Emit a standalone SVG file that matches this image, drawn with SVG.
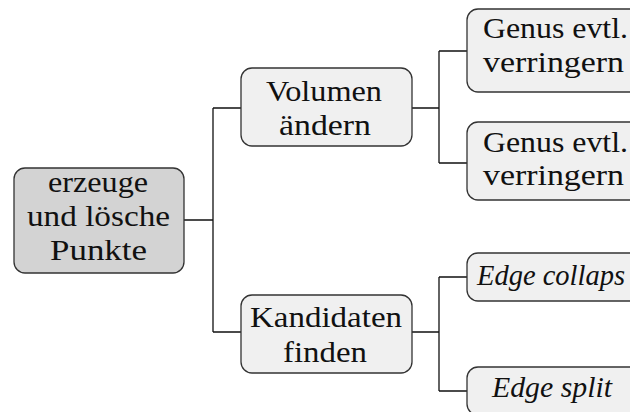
<svg xmlns="http://www.w3.org/2000/svg" width="630" height="412" viewBox="0 0 630 412">
  <style>
    .box { fill: #f0f0f0; stroke: #333; stroke-width: 1.3; }
    .root { fill: #d3d3d3; }
    .lbl { font-family: "Liberation Serif", "Times New Roman", serif; font-size: 30px; fill: #111; }
    .it { font-style: italic; }
    .wire { fill: none; stroke: #111; stroke-width: 1.3; }
  </style>
  <rect width="630" height="412" fill="#fff"/>

  <g id="connectors">
    <path class="wire" d="M184,220 H213 M213,108 V332 M213,108 H241 M213,332 H241"/>
    <path class="wire" d="M412,108 H439 M439,51 V163 M439,51 H467 M439,163 H467"/>
    <path class="wire" d="M412,332 H439 M439,277 V391 M439,277 H467 M439,391 H467"/>
  </g>

  <g id="root">
    <rect class="box root" x="14" y="168" width="170" height="105" rx="11"/>
    <text class="lbl" x="48" y="192" textLength="100" lengthAdjust="spacingAndGlyphs">erzeuge</text>
    <text class="lbl" x="27" y="226" textLength="143" lengthAdjust="spacingAndGlyphs">und lösche</text>
    <text class="lbl" x="50" y="260" textLength="97" lengthAdjust="spacingAndGlyphs">Punkte</text>
  </g>

  <g id="volumen">
    <rect class="box" x="241" y="68" width="171" height="78" rx="11"/>
    <text class="lbl" x="266" y="101" textLength="116" lengthAdjust="spacingAndGlyphs">Volumen</text>
    <text class="lbl" x="279" y="135" textLength="92" lengthAdjust="spacingAndGlyphs">ändern</text>
  </g>

  <g id="kandidaten">
    <rect class="box" x="241" y="295" width="171" height="78" rx="11"/>
    <text class="lbl" x="250" y="327" textLength="152" lengthAdjust="spacingAndGlyphs">Kandidaten</text>
    <text class="lbl" x="283" y="362" textLength="84" lengthAdjust="spacingAndGlyphs">finden</text>
  </g>

  <g id="genus1">
    <rect class="box" x="467" y="9" width="190" height="83" rx="11"/>
    <text class="lbl" x="483" y="38" textLength="145" lengthAdjust="spacingAndGlyphs">Genus evtl.</text>
    <text class="lbl" x="483" y="72" textLength="141" lengthAdjust="spacingAndGlyphs">verringern</text>
  </g>

  <g id="genus2">
    <rect class="box" x="467" y="122" width="190" height="78" rx="11"/>
    <text class="lbl" x="483" y="152" textLength="145" lengthAdjust="spacingAndGlyphs">Genus evtl.</text>
    <text class="lbl" x="483" y="185" textLength="141" lengthAdjust="spacingAndGlyphs">verringern</text>
  </g>

  <g id="edge-collaps">
    <rect class="box" x="467" y="253" width="200" height="48" rx="11"/>
    <text class="lbl it" x="477" y="285" textLength="148" lengthAdjust="spacingAndGlyphs">Edge collaps</text>
  </g>

  <g id="edge-split">
    <rect class="box" x="467" y="367" width="180" height="48" rx="11"/>
    <text class="lbl it" x="492" y="397" textLength="120" lengthAdjust="spacingAndGlyphs">Edge split</text>
  </g>
</svg>
